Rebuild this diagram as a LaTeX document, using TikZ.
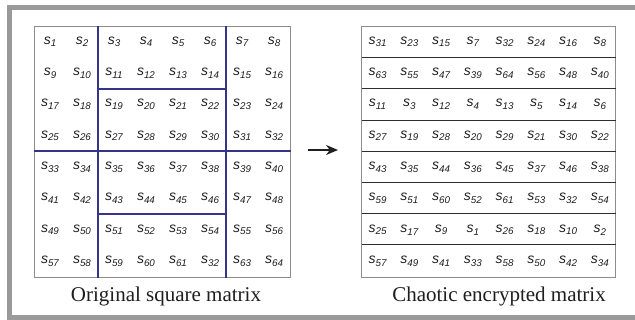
\documentclass[tikz,border=0pt]{standalone}
\usepackage{fontspec}
\setmainfont{Liberation Serif}
\newfontfamily\cellfont{Liberation Sans}
\usetikzlibrary{arrows.meta}
\definecolor{framegray}{HTML}{9A9A9A}
\definecolor{boxgray}{HTML}{8C8C8C}
\definecolor{navyline}{HTML}{34348A}
\definecolor{rowline}{HTML}{2E2E2E}
\definecolor{txtgray}{HTML}{1E1E1E}
\newcommand\sv[1]{{\cellfont\itshape\fontsize{14}{15}\selectfont s\raisebox{-2.7pt}{\fontsize{9.8}{10}\selectfont #1}}}
\tikzset{
  cell/.style={inner sep=0pt, text=txtgray},
  boxline/.style={draw=boxgray, line width=1pt},
  blueline/.style={draw=navyline, line width=2pt},
  sepline/.style={draw=rowline, line width=1.7pt},
  caption/.style={anchor=base, inner sep=0pt, font=\fontsize{21}{24}\selectfont, text=txtgray},
  arrowline/.style={draw=black!88, line width=2pt, -{Stealth[length=12pt,width=10pt]}}
}
\begin{document}
\begin{tikzpicture}[x=1pt,y=-1pt]
\useasboundingbox (0,0) rectangle (635,320);
% outer frame
\fill[framegray] (7,5) rectangle (635,10);
\fill[framegray] (7,5) rectangle (12,320);
\fill[framegray] (7,315) rectangle (635,320);
% left matrix
\draw[boxline] (34.5,26.5) rectangle (290.5,277.5);
\draw[blueline] (98,26) -- (98,278);
\draw[blueline] (226,26) -- (226,278);
\draw[blueline] (34,151) -- (291,151);
\draw[blueline] (98,89) -- (226,89);
\draw[blueline] (98,214) -- (226,214);
\foreach \r in {1,...,8}{
  \foreach \c in {1,...,8}{
    \pgfmathtruncatemacro{\n}{(\r-1)*8+\c}
    \ifnum\n=62 \def\n{32}\fi
    \node[cell] (L-\r-\c) at ({34+32*(\c-0.5)},{26+31.375*(\r-0.5)}) {\sv{\n}};
  }
}
% right matrix
\draw[boxline] (361.5,26.5) rectangle (615.5,277.5);
\foreach \y in {57.5,88.5,120.5,151.5,182.5,213.5,244.5}{
  \draw[sepline] (361.5,\y) -- (615.5,\y);
}
\foreach \row [count=\r] in {{31,23,15,7,32,24,16,8},{63,55,47,39,64,56,48,40},{11,3,12,4,13,5,14,6},{27,19,28,20,29,21,30,22},{43,35,44,36,45,37,46,38},{59,51,60,52,61,53,32,54},{25,17,9,1,26,18,10,2},{57,49,41,33,58,50,42,34}}{
  \foreach \v [count=\c] in \row {
    \node[cell] (R-\r-\c) at ({361.7+31.75*(\c-0.5)},{26+31.375*(\r-0.5)}) {\sv{\v}};
  }
}
% arrow
\coordinate (arrS) at (308,150);
\coordinate (arrE) at (338,150);
\draw[arrowline] (arrS) -- (arrE);
% captions
\node[caption] (capL) at (166,302) {Original square matrix};
\node[caption] (capR) at (499,302) {Chaotic encrypted matrix};
\end{tikzpicture}
\end{document}
